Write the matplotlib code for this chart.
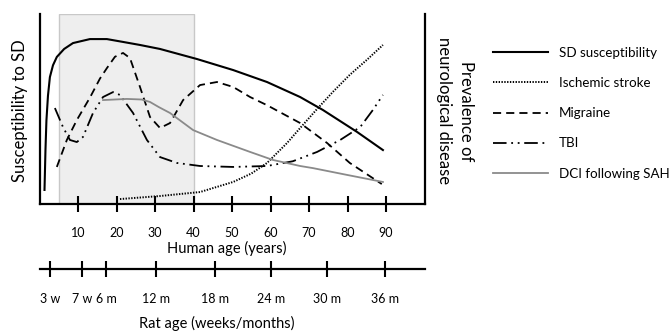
import matplotlib

matplotlib.use("Agg")
import matplotlib.pyplot as plt

plt.rcParams["font.family"] = ["Lato", "DejaVu Sans"]

# human age (years) / relative level
sd_age = [1.3, 1.55, 1.8, 2.2, 2.7, 3.5, 4.5, 6.4, 8.7, 13.1, 17.5, 21.7, 26.1, 31.3,
          40.9, 50.3, 59.1, 67.7, 73.6, 82.5, 89.2]
sd_val = [0.074, 0.284, 0.44, 0.57, 0.668, 0.73, 0.774, 0.816, 0.847, 0.868, 0.868, 0.853,
          0.837, 0.816, 0.763, 0.705, 0.642, 0.563, 0.495, 0.379, 0.284]

stroke_age = [20.9, 31.3, 41.7, 50.3, 55.0, 59.1, 64.3, 67.7, 72.1, 76.2, 80.6, 85.1, 89.2]
stroke_val = [0.026, 0.042, 0.063, 0.116, 0.16, 0.216, 0.321, 0.4, 0.5, 0.59, 0.68, 0.76, 0.837]

migraine_age = [4.5, 7.1, 9.7, 13.1, 15.7, 17.5, 19.6, 21.7, 23.5, 26.1, 28.7, 31.3, 33.9,
                37.3, 41.7, 46.1, 50.3, 54.7, 59.1, 67.7, 74.7, 80.6, 88.9]
migraine_val = [0.195, 0.337, 0.442, 0.56, 0.66, 0.715, 0.775, 0.795, 0.768, 0.616, 0.458,
                0.4, 0.426, 0.547, 0.626, 0.642, 0.616, 0.563, 0.52, 0.426, 0.321, 0.216, 0.105]

tbi_age = [4.0, 6.1, 7.9, 9.7, 11.3, 13.9, 16.5, 19.1, 20.9, 24.3, 27.9, 31.3, 35.7,
           41.7, 50.3, 59.1, 65.8, 72.1, 78.1, 83.3, 86.6, 89.2]
tbi_val = [0.505, 0.405, 0.337, 0.326, 0.353, 0.479, 0.563, 0.589, 0.574, 0.479, 0.337,
           0.247, 0.216, 0.2, 0.195, 0.2, 0.225, 0.274, 0.337, 0.405, 0.495, 0.574]

dci_age = [16.5, 22.7, 26.5, 28.7, 31.0, 33.9, 39.9, 46.1, 54.7, 60.6, 67.7, 71.0, 79.9, 89.2]
dci_val = [0.547, 0.553, 0.55, 0.537, 0.51, 0.479, 0.389, 0.337, 0.274, 0.232, 0.2, 0.189,
           0.153, 0.116]

human_ticks = [10, 20, 30, 40, 50, 60, 70, 80, 90]
# rat ages placed on the human-age scale
rat_ticks = [2.7, 11.0, 17.3, 30.3, 45.6, 60.1, 74.7, 89.7]
rat_labels = ["3 w", "7 w", "6 m", "12 m", "18 m", "24 m", "30 m", "36 m"]

W, H = 670, 332
fig = plt.figure(figsize=(W / 100, H / 100), dpi=100)
ax = fig.add_axes([39.5 / W, (H - 204) / H, 385 / W, 190 / H])
ax.set_xlim(0, 100)
ax.set_ylim(0, 1)

# shaded window (human ages 5-40)
ax.axvspan(5, 40, ymin=0, ymax=1, facecolor="#eeeeee", edgecolor="#c8c8c8", lw=1, zorder=0)

lw = 1.3
h_sd, = ax.plot(sd_age, sd_val, color="black", lw=1.5, label="SD susceptibility")
h_st, = ax.plot(stroke_age, stroke_val, color="black", lw=1.4, ls=(0, (0.7, 0.75)),
                label="Ischemic stroke")
h_mi, = ax.plot(migraine_age, migraine_val, color="black", lw=lw, ls=(0, (4.5, 2.8)),
                label="Migraine")
h_tb, = ax.plot(tbi_age, tbi_val, color="black", lw=lw,
                ls=(0, (7.5, 2.6, 1.0, 2.6, 1.0, 2.6)), label="TBI")
h_dc, = ax.plot(dci_age, dci_val, color="#8a8a8a", lw=1.3, label="DCI following SAH")

for side in ["left", "bottom", "right"]:
    ax.spines[side].set_linewidth(1.6)
ax.spines["top"].set_visible(False)
ax.set_yticks([])
ax.set_xticks(human_ticks)
ax.tick_params(axis="x", direction="inout", length=11, width=1.5, pad=11, labelsize=9)
fig.text(227 / W, 1 - 248 / H, "Human age (years)", ha="center", va="center", fontsize=10.5)
fig.text(20 / W, 1 - 111 / H, "Susceptibility to SD", rotation=90, ha="center",
         va="center", fontsize=12)
fig.text(455 / W, 1 - 111 / H, "Prevalence of\nneurological disease", rotation=270,
         ha="center", va="center", fontsize=12, linespacing=1.45)

# rat age axis
ax2 = fig.add_axes([39.5 / W, (H - 269) / H, 385 / W, 0.02])
ax2.set_xlim(0, 100)
ax2.patch.set_visible(False)
for side in ["left", "top", "right"]:
    ax2.spines[side].set_visible(False)
ax2.spines["bottom"].set_linewidth(1.6)
ax2.set_yticks([])
ax2.set_xticks(rat_ticks)
ax2.set_xticklabels(rat_labels)
ax2.tick_params(axis="x", direction="inout", length=12, width=1.5, pad=11, labelsize=9)
fig.text(217 / W, 1 - 323 / H, "Rat age (weeks/months)", ha="center", va="center",
         fontsize=10.5)

fig.legend(handles=[h_sd, h_st, h_mi, h_tb, h_dc], loc="upper left",
           bbox_to_anchor=(493 / W, (H - 47) / H), frameon=False, fontsize=9.6,
           handlelength=4.1, handletextpad=0.85, labelspacing=1.36, borderpad=0,
           borderaxespad=0)

fig.savefig("out.png", dpi=100)
